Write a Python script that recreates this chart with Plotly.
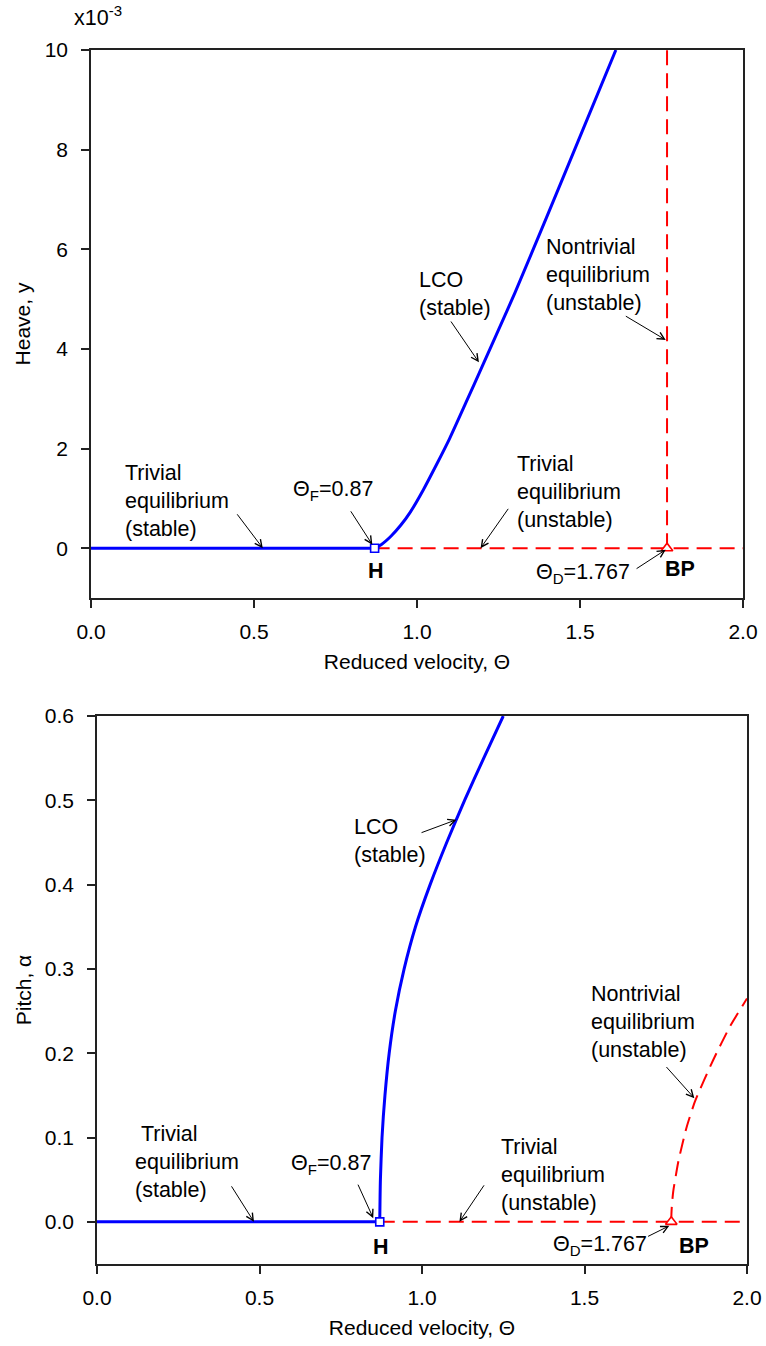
import plotly.graph_objects as go

# Bifurcation diagram data: reduced velocity vs heave / pitch
theta_flutter = 0.87
theta_diverge = 1.767
theta_max = 2.0

# Stable LCO branch, heave amplitude (x1e-3)
lco_heave_theta = [0.87, 0.89, 0.92, 0.95, 0.98, 1.02, 1.06, 1.10, 1.15, 1.20, 1.25, 1.30, 1.40, 1.50, 1.61]
lco_heave_y = [0.0, 0.07, 0.24, 0.46, 0.73, 1.18, 1.68, 2.20, 2.92, 3.65, 4.38, 5.12, 6.68, 8.26, 10.0]

# Stable LCO branch, pitch amplitude
lco_pitch_theta = [0.870, 0.872, 0.877, 0.886, 0.899, 0.918, 0.945, 0.980, 1.025, 1.076, 1.131, 1.190, 1.250]
lco_pitch_alpha = [0.0, 0.05, 0.10, 0.15, 0.20, 0.25, 0.30, 0.35, 0.40, 0.45, 0.50, 0.55, 0.60]

# Unstable nontrivial equilibrium branch
nontriv_heave_theta = [1.767, 1.767]
nontriv_heave_y = [0.0, 10.0]
nontriv_pitch_theta = [1.767, 1.7675, 1.769, 1.773, 1.789, 1.814, 1.840, 1.896, 1.948, 2.000]
nontriv_pitch_alpha = [0.0, 0.010, 0.020, 0.036, 0.072, 0.112, 0.143, 0.192, 0.232, 0.265]

x_ticks = [0.0, 0.5, 1.0, 1.5, 2.0]
heave_ticks = [0, 2, 4, 6, 8, 10]
pitch_ticks = [0.0, 0.1, 0.2, 0.3, 0.4, 0.5, 0.6]

BLUE = "#0000ff"
RED = "#ff0000"
FONT = "Liberation Sans, Arial, Helvetica, sans-serif"
TXT = 21.5
W, H = 766, 1346

fig = go.Figure()


def add_panel(xa, ya, lco_x, lco_y, nt_x, nt_y):
    # unstable trivial equilibrium
    fig.add_trace(go.Scatter(x=[theta_flutter, theta_max], y=[0, 0], mode="lines",
                             line=dict(color=RED, width=2, dash="15px,8px"),
                             xaxis=xa, yaxis=ya, hoverinfo="skip"))
    # unstable nontrivial equilibrium
    fig.add_trace(go.Scatter(x=nt_x, y=nt_y, mode="lines",
                             line=dict(color=RED, width=2, dash="15px,8px",
                                       shape="spline", smoothing=0.5),
                             xaxis=xa, yaxis=ya, hoverinfo="skip"))
    # stable trivial equilibrium
    fig.add_trace(go.Scatter(x=[0, theta_flutter], y=[0, 0], mode="lines",
                             line=dict(color=BLUE, width=3),
                             xaxis=xa, yaxis=ya, hoverinfo="skip"))
    # stable LCO
    fig.add_trace(go.Scatter(x=lco_x, y=lco_y, mode="lines",
                             line=dict(color=BLUE, width=3, shape="spline", smoothing=0.6),
                             xaxis=xa, yaxis=ya, hoverinfo="skip"))
    # Hopf point and branch point
    fig.add_trace(go.Scatter(x=[theta_flutter], y=[0], mode="markers",
                             marker=dict(symbol="square", size=8, color="white",
                                         line=dict(color=BLUE, width=1.6)),
                             xaxis=xa, yaxis=ya, hoverinfo="skip"))
    fig.add_trace(go.Scatter(x=[theta_diverge], y=[0], mode="markers",
                             marker=dict(symbol="triangle-up", size=10, color="white",
                                         line=dict(color=RED, width=1.6)),
                             xaxis=xa, yaxis=ya, hoverinfo="skip"))


add_panel("x", "y", lco_heave_theta, lco_heave_y, nontriv_heave_theta, nontriv_heave_y)
add_panel("x2", "y2", lco_pitch_theta, lco_pitch_alpha, nontriv_pitch_theta, nontriv_pitch_alpha)

axis_common = dict(showline=True, linecolor="#222", linewidth=1.5, mirror=True,
                   ticks="outside", ticklen=8, tickwidth=1.5, tickcolor="#222",
                   showgrid=False, zeroline=False, automargin=False,
                   tickfont=dict(family=FONT, size=21, color="black"))

fig.update_layout(
    width=W, height=H, margin=dict(l=0, r=0, t=0, b=0),
    template="none",
    paper_bgcolor="white", plot_bgcolor="white", showlegend=False,
    font=dict(family=FONT, size=TXT, color="black"),
    xaxis=dict(domain=[91 / W, 743 / W], range=[0, 2], tickvals=x_ticks, tickformat=".1f",
               anchor="y", ticklabelstandoff=6,
               title=dict(text="Reduced velocity, Θ", standoff=12,
                          font=dict(family=FONT, size=21)), **axis_common),
    yaxis=dict(domain=[1 - 598 / H, 1 - 50 / H], range=[-1, 10], tickvals=heave_ticks,
               anchor="x", ticklabelstandoff=9,
               title=dict(text="Heave, y", standoff=8,
                          font=dict(family=FONT, size=21)), **axis_common),
    xaxis2=dict(domain=[97 / W, 747 / W], range=[0, 2], tickvals=x_ticks, tickformat=".1f",
                anchor="y2", ticklabelstandoff=6,
                title=dict(text="Reduced velocity, Θ", standoff=12,
                           font=dict(family=FONT, size=21)), **axis_common),
    yaxis2=dict(domain=[1 - 1264 / H, 1 - 716 / H], range=[-0.05, 0.6], tickvals=pitch_ticks,
                tickformat=".1f", anchor="x2", ticklabelstandoff=9,
                title=dict(text="Pitch, α", standoff=7,
                           font=dict(family=FONT, size=21)), **axis_common),
)

ann = []


def label(xa, ya, x, y, text, xanchor="left", bold=False):
    ann.append(dict(xref=xa, yref=ya, x=x, y=y, text=f"<b>{text}</b>" if bold else text,
                    showarrow=False, xanchor=xanchor, yanchor="middle", align="left",
                    font=dict(family=FONT, size=TXT, color="black")))


def arrow(xa, ya, tail, tip):
    ann.append(dict(xref=xa, yref=ya, axref=xa, ayref=ya, x=tip[0], y=tip[1],
                    ax=tail[0], ay=tail[1], text="", showarrow=True,
                    arrowhead=5, arrowsize=1.4, arrowwidth=1, arrowcolor="black"))


# Heave panel labels
label("x", "y", 0.098, 0.95, "Trivial<br>equilibrium<br>(stable)")
arrow("x", "y", (0.445, 0.71), (0.527, 0.0))
label("x", "y", 0.613, 1.15, "Θ<sub>F</sub>=0.87")
arrow("x", "y", (0.794, 0.77), (0.863, 0.07))
label("x", "y", 0.873, -0.455, "H", xanchor="center", bold=True)
label("x", "y", 1.301, 1.13, "Trivial<br>equilibrium<br>(unstable)")
arrow("x", "y", (1.283, 0.82), (1.195, 0.0))
label("x", "y", 1.359, -0.515, "Θ<sub>D</sub>=1.767")
arrow("x", "y", (1.669, -0.43), (1.763, -0.03))
label("x", "y", 1.807, -0.415, "BP", xanchor="center", bold=True)
label("x", "y", 1.001, 5.10, "LCO<br>(stable)")
arrow("x", "y", (1.101, 4.58), (1.190, 3.73))
label("x", "y", 1.39, 5.48, "Nontrivial<br>equilibrium<br>(unstable)")
arrow("x", "y", (1.636, 4.675), (1.763, 4.18))
ann.append(dict(xref="paper", yref="paper", x=72 / W, y=1 - 16 / H, xanchor="left",
                yanchor="middle", showarrow=False, text="x10<sup>-3</sup>",
                font=dict(family=FONT, size=TXT, color="black")))

# Pitch panel labels
label("x2", "y2", 0.11, 0.0715, "&nbsp;Trivial<br>equilibrium<br>(stable)")
arrow("x2", "y2", (0.411, 0.0439), (0.483, 0.0))
label("x2", "y2", 0.592, 0.0676, "Θ<sub>F</sub>=0.87")
arrow("x2", "y2", (0.801, 0.0459), (0.850, 0.0044))
label("x2", "y2", 0.873, -0.0293, "H", xanchor="center", bold=True)
label("x2", "y2", 1.238, 0.0558, "Trivial<br>equilibrium<br>(unstable)")
arrow("x2", "y2", (1.194, 0.0451), (1.115, 0.0))
label("x2", "y2", 1.397, -0.0281, "Θ<sub>D</sub>=1.767")
arrow("x2", "y2", (1.691, -0.0181), (1.761, -0.0047))
label("x2", "y2", 1.837, -0.0281, "BP", xanchor="center", bold=True)
label("x2", "y2", 0.784, 0.452, "LCO<br>(stable)")
arrow("x2", "y2", (0.994, 0.461), (1.106, 0.477))
label("x2", "y2", 1.515, 0.2376, "Nontrivial<br>equilibrium<br>(unstable)")
arrow("x2", "y2", (1.748, 0.1854), (1.838, 0.1467))

fig.update_layout(annotations=ann)
fig.write_html("out.html")
